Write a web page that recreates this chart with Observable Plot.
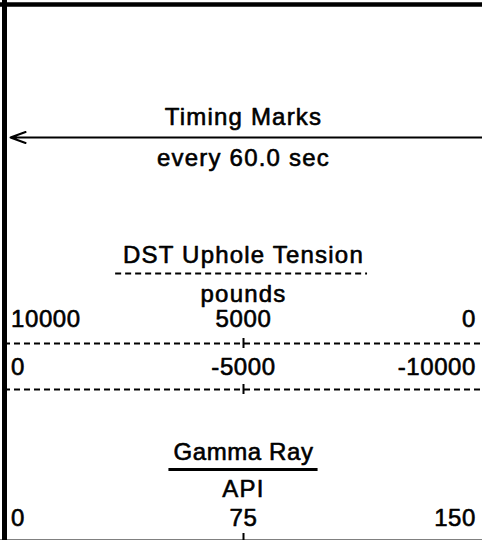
<!DOCTYPE html>
<html>
<head>
<meta charset="utf-8">
<script src="https://cdn.jsdelivr.net/npm/d3@7"></script>
<script src="https://cdn.jsdelivr.net/npm/@observablehq/plot@0.6"></script>
<style>
  html, body { margin: 0; padding: 0; background: #fff; }
  svg { display: block; }
</style>
</head>
<body>
<script>
// ---- data ----
const timingTitle = "Timing Marks";
const timingUnit = "every 60.0 sec";
const tensionTitle = "DST Uphole Tension";
const tensionUnit = "pounds";
const tensionScaleA = [10000, 5000, 0];
const tensionScaleB = [0, -5000, -10000];
const gammaTitle = "Gamma Ray";
const gammaUnit = "API";
const gammaScale = [0, 75, 150];

// ---- layout (baselines / rule rows, in px of the header) ----
const row = {
  top: 4, timingTitle: 126, arrow: 137, timingUnit: 167,
  tensionTitle: 264, tensionUnderline: 273, tensionUnit: 303,
  tensionLabelsA: 328, tensionLineA: 343, tensionLabelsB: 376, tensionLineB: 389,
  gammaTitle: 461, gammaUnderline: 469, gammaUnit: 498, gammaLabels: 527,
  bottom: 539.5, end: 540
};
const tickHalf = 5;
const textLift = -2;
const underlineWidth = {tension: 0.527, gamma: 0.312};
const ink = {fill: "#000", stroke: "#000", strokeWidth: 0.6, lineAnchor: "bottom", dy: textLift};

const toPoints = (vals) => vals.map((v, i) => ({label: String(v), f: i / (vals.length - 1)}));

function labelRow(vals, y) {
  const pts = toPoints(vals);
  return [
    Plot.text([pts[0]], {...ink, x: "f", y: () => y, text: "label", textAnchor: "start", dx: 6.5}),
    Plot.text(pts.slice(1, -1), {...ink, x: "f", y: () => y, text: "label", textAnchor: "middle"}),
    Plot.text([pts[pts.length - 1]], {...ink, x: "f", y: () => y, text: "label", textAnchor: "end", dx: -6.5})
  ];
}
function midTicks(vals, y1, y2) {
  const pts = toPoints(vals).slice(1, -1);
  return Plot.ruleX(pts, {x: "f", y1: () => y1, y2: () => y2, stroke: "#000", strokeWidth: 2});
}
function title(txt, y) {
  return Plot.text([txt], {...ink, x: () => 0.5, y: () => y, text: d => d, textAnchor: "middle"});
}

const chart = Plot.plot({
  width: 482,
  height: 540,
  margin: 0,
  x: {domain: [0, 1], range: [4, 482], axis: null},
  y: {domain: [0, 540], range: [0, 540], axis: null},
  style: {fontFamily: "'Liberation Sans', Arial, sans-serif", fontSize: "24px", color: "#000", background: "#fff", letterSpacing: "0.6px"},
  marks: [
    // timing marks track
    title(timingTitle, row.timingTitle),
    Plot.arrow([0], {x1: () => 1, x2: () => 0, y1: () => row.arrow, y2: () => row.arrow,
      stroke: "#000", strokeWidth: 2, headLength: 12, headAngle: 40, insetEnd: 6}),
    title(timingUnit, row.timingUnit),

    // DST uphole tension
    title(tensionTitle, row.tensionTitle),
    Plot.ruleY([row.tensionUnderline], {x1: () => 0.5 - underlineWidth.tension / 2 - 0.004, x2: () => 0.5 + underlineWidth.tension / 2 - 0.004,
      stroke: "#000", strokeWidth: 2, strokeDasharray: "6,4"}),
    title(tensionUnit, row.tensionUnit),
    ...labelRow(tensionScaleA, row.tensionLabelsA),
    Plot.ruleY([row.tensionLineA], {x1: () => 0, x2: () => 1, stroke: "#000", strokeWidth: 2, strokeDasharray: "6,4"}),
    midTicks(tensionScaleA, row.tensionLineA - tickHalf, row.tensionLineA + tickHalf),
    ...labelRow(tensionScaleB, row.tensionLabelsB),
    Plot.ruleY([row.tensionLineB], {x1: () => 0, x2: () => 1, stroke: "#000", strokeWidth: 2, strokeDasharray: "6,4"}),
    midTicks(tensionScaleB, row.tensionLineB - tickHalf, row.tensionLineB + tickHalf),

    // gamma ray
    title(gammaTitle, row.gammaTitle),
    Plot.ruleY([row.gammaUnderline], {x1: () => 0.5 - underlineWidth.gamma / 2, x2: () => 0.5 + underlineWidth.gamma / 2,
      stroke: "#000", strokeWidth: 3}),
    title(gammaUnit, row.gammaUnit),
    ...labelRow(gammaScale, row.gammaLabels),
    midTicks(gammaScale, row.gammaLabels + 6, row.end),

    // frame
    Plot.ruleY([row.bottom], {stroke: "#000", strokeWidth: 1}),
    Plot.ruleY([row.top], {stroke: "#000", strokeWidth: 4.5}),
    Plot.ruleX([0], {stroke: "#000", strokeWidth: 5})
  ]
});
// wider tracking on the word titles (the reference's hinted text runs wider)
const titleTexts = [timingTitle, timingUnit, tensionTitle, tensionUnit, gammaUnit];
d3.select(chart).selectAll("text")
  .filter(function () { return titleTexts.includes(this.textContent); })
  .style("letter-spacing", "1.2px");
document.body.append(chart);
</script>
</body>
</html>
